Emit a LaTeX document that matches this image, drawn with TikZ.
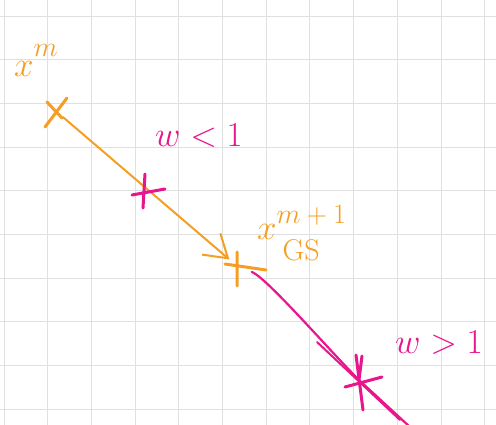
\RequirePackage{fix-cm}
\documentclass[tikz,border=0pt]{standalone}
\usepackage{amsmath, amssymb}
\usepackage{xcolor}
\usepackage{tikz}
\usetikzlibrary{arrows.meta}
\definecolor{penorange}{RGB}{245,158,35}
\definecolor{penpink}{RGB}{232,22,140}

\begin{document}
\begin{tikzpicture}[x=1pt, y=-1pt,
    gridline/.style={black!12, line width=0.9pt},
    orangepen/.style={penorange, line width=3pt, line cap=round},
    pinkpen/.style={penpink, line width=3pt, line cap=round},
    handtext/.style={inner sep=0pt, anchor=base west, font=\fontsize{35}{40}\selectfont},
    smallhand/.style={font=\fontsize{28}{30}\selectfont}]
    \useasboundingbox (0,0) rectangle (496,425);
    \fill[white] (0,0) rectangle (496,425);
    \foreach \i in {0,...,11} \draw[gridline] (4+43.7*\i,0) -- (4+43.7*\i,425);
    \foreach \j in {0,...,9} \draw[gridline] (0,16+43.7*\j) -- (496,16+43.7*\j);

    \coordinate (xm) at (57,112);
    \coordinate (mid) at (145,191);
    \coordinate (xgs) at (237,266);
    \coordinate (wstar) at (359,380);
    \coordinate (tail) at (410,427);

    \draw[orangepen, line width=2pt, shorten <=8pt, shorten >=10pt,
        -{Straight Barb[length=22pt, width=28pt, line width=2pt]}] (xm) -- (xgs);
    \draw[pinkpen, line width=2.2pt, shorten <=16pt] (xgs) .. controls +(30,12) and +(-30,-30) .. (wstar) -- (tail);
    \draw[pinkpen, line width=2pt, shift={(wstar)}] (-42,-38) -- (41,40);

    \draw[orangepen, shift={(xm)}] (-12,15) -- (10,-14) (-10,-10) -- (5,6);
    \draw[pinkpen, shift={(mid)}] (0,-17) -- (-2,17) (-13,4) -- (20,-2);
    \draw[orangepen, shift={(xgs)}] (0,-14) -- (0,20) (-12,-2) -- (29,4);
    \draw[pinkpen, shift={(wstar)}] (-3,-25) -- (4,30) (3,-24) -- (0,0) (-14,7) -- (23,-3);

    \node[handtext, text=penorange] (xmlabel) at (14,77)
        {$x^{\raisebox{8pt}{\fontsize{28}{30}\selectfont$m$}}$};
    \node[handtext, text=penpink] (wlow) at (155,147) {$w<1$};
    \node[handtext, text=penorange] (gslabel) at (257,240)
        {$x^{\raisebox{4pt}{\fontsize{28}{30}\selectfont$m+1$}}_{\raisebox{-12pt}{\,\fontsize{30}{32}\selectfont GS}}$};
    \node[handtext, text=penpink] (whigh) at (395,353) {$w>1$};
\end{tikzpicture}
\end{document}
